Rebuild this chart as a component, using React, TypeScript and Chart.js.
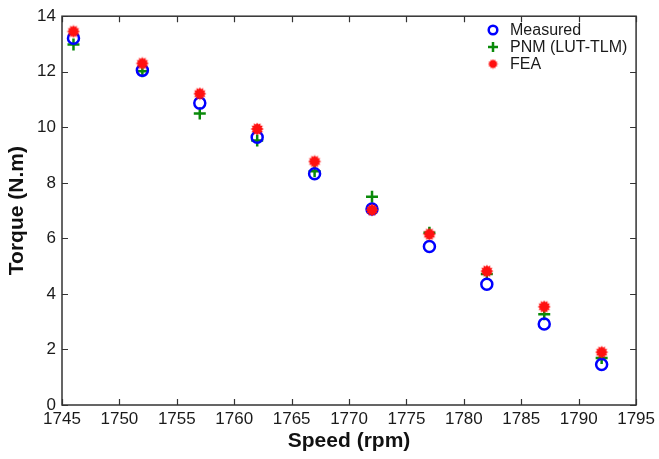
import React, { useEffect, useRef } from "react";
import { Chart, registerables } from "chart.js";

Chart.register(...registerables);

const speeds = [1746, 1752, 1757, 1762, 1767, 1772, 1777, 1782, 1787, 1792];
const measured = [13.21, 12.05, 10.87, 9.64, 8.33, 7.06, 5.71, 4.35, 2.92, 1.46];
const pnm = [12.98, 12.02, 10.5, 9.52, 8.42, 7.5, 6.2, 4.72, 3.27, 1.69];
const fea = [13.45, 12.3, 11.21, 9.94, 8.77, 7.02, 6.15, 4.82, 3.54, 1.9];
const xTicks = [1745, 1750, 1755, 1760, 1765, 1770, 1775, 1780, 1785, 1790, 1795];
const yTicks = [0, 2, 4, 6, 8, 10, 12, 14];
const legendLabels = ["Measured", "PNM (LUT-TLM)", "FEA"];

const BLUE = "#0000ff";
const GREEN = "#0a8a0a";
const RED = "#ff1010";
const FONT = "'Liberation Sans', Arial, sans-serif";

function makeStar(size: number): HTMLCanvasElement {
  const c = document.createElement("canvas");
  c.width = size;
  c.height = size;
  const g = c.getContext("2d")!;
  const cx = size / 2;
  const outer = size / 2 - 0.5;
  const inner = outer * 0.72;
  const n = 12;
  g.fillStyle = RED;
  g.beginPath();
  for (let i = 0; i < n * 2; i++) {
    const r = i % 2 === 0 ? outer : inner;
    const a = (Math.PI * i) / n - Math.PI / 2;
    const px = cx + r * Math.cos(a);
    const py = cx + r * Math.sin(a);
    if (i === 0) g.moveTo(px, py);
    else g.lineTo(px, py);
  }
  g.closePath();
  g.fill();
  return c;
}

export default function App() {
  const ref = useRef<HTMLCanvasElement | null>(null);

  useEffect(() => {
    document.body.style.margin = "0";
    const canvas = ref.current!;
    const star = makeStar(14);
    const starSmall = makeStar(11);

    const framePlugin = {
      id: "frame",
      beforeDatasetsDraw(chart: any) {
        const { ctx, chartArea } = chart;
        const { left, right, top, bottom } = chartArea;
        const x = chart.scales.x;
        const y = chart.scales.y;
        ctx.save();
        ctx.strokeStyle = "#333";
        ctx.lineWidth = 1.5;
        ctx.strokeRect(left, top, right - left, bottom - top);
        ctx.beginPath();
        const tl = 6;
        for (const v of xTicks) {
          const px = Math.round(x.getPixelForValue(v)) + 0.5;
          ctx.moveTo(px, bottom);
          ctx.lineTo(px, bottom - tl);
          ctx.moveTo(px, top);
          ctx.lineTo(px, top + tl);
        }
        for (const v of yTicks) {
          const py = Math.round(y.getPixelForValue(v)) + 0.5;
          ctx.moveTo(left, py);
          ctx.lineTo(left + tl, py);
          ctx.moveTo(right, py);
          ctx.lineTo(right - tl, py);
        }
        ctx.lineWidth = 1.2;
        ctx.stroke();
        ctx.restore();
      },
      afterDraw(chart: any) {
        const { ctx } = chart;
        ctx.save();
        const mx = 493;
        const tx = 510;
        const rows = [30, 47, 64];
        // Measured
        ctx.strokeStyle = BLUE;
        ctx.lineWidth = 2.5;
        ctx.beginPath();
        ctx.arc(mx, rows[0], 4.3, 0, Math.PI * 2);
        ctx.stroke();
        // PNM
        ctx.strokeStyle = GREEN;
        ctx.lineWidth = 2.5;
        ctx.beginPath();
        ctx.moveTo(mx - 5, rows[1]);
        ctx.lineTo(mx + 5, rows[1]);
        ctx.moveTo(mx, rows[1] - 5);
        ctx.lineTo(mx, rows[1] + 5);
        ctx.stroke();
        // FEA
        ctx.drawImage(starSmall, mx - starSmall.width / 2, rows[2] - starSmall.height / 2);
        ctx.fillStyle = "#1a1a1a";
        ctx.font = `16px ${FONT}`;
        ctx.textBaseline = "middle";
        ctx.textAlign = "left";
        legendLabels.forEach((t, i) => ctx.fillText(t, tx, rows[i] + 1));
        ctx.restore();
      },
    };

    const chart = new Chart(canvas, {
      type: "scatter",
      data: {
        datasets: [
          {
            label: legendLabels[0],
            data: speeds.map((s, i) => ({ x: s, y: measured[i] })),
            pointStyle: "circle",
            pointRadius: 5.5,
            borderWidth: 2.5,
            borderColor: BLUE,
            backgroundColor: "rgba(0,0,0,0)",
            order: 2,
          },
          {
            label: legendLabels[1],
            data: speeds.map((s, i) => ({ x: s, y: pnm[i] })),
            pointStyle: "cross",
            pointRadius: 6,
            borderWidth: 2.5,
            borderColor: GREEN,
            backgroundColor: GREEN,
            order: 3,
          },
          {
            label: legendLabels[2],
            data: speeds.map((s, i) => ({ x: s, y: fea[i] })),
            pointStyle: star as any,
            pointRadius: 7,
            borderColor: RED,
            backgroundColor: RED,
            order: 1,
          },
        ],
      },
      options: {
        animation: false,
        responsive: false,
        maintainAspectRatio: false,
        events: [],
        layout: { padding: { top: 13, right: 22, left: 0, bottom: 0 } },
        plugins: {
          legend: { display: false },
          tooltip: { enabled: false },
        },
        scales: {
          x: {
            type: "linear",
            min: 1745,
            max: 1795,
            afterBuildTicks: (scale: any) => {
              scale.ticks = xTicks.map((v) => ({ value: v }));
            },
            afterFit: (scale: any) => {
              scale.height = 54;
            },
            grid: { display: false, drawTicks: false },
            border: { display: false },
            ticks: {
              padding: 4,
              maxRotation: 0,
              autoSkip: false,
              color: "#1a1a1a",
              font: { family: FONT, size: 17 },
              callback: (v: any) => String(v),
            },
            title: {
              display: true,
              text: "Speed (rpm)",
              color: "#111",
              font: { family: FONT, size: 21, weight: "bold" },
              padding: { top: 0, bottom: 5 },
            },
          },
          y: {
            type: "linear",
            min: 0,
            max: 14,
            afterBuildTicks: (scale: any) => {
              scale.ticks = yTicks.map((v) => ({ value: v }));
            },
            afterFit: (scale: any) => {
              scale.width = 62;
            },
            grid: { display: false, drawTicks: false },
            border: { display: false },
            ticks: {
              padding: 6,
              autoSkip: false,
              color: "#1a1a1a",
              font: { family: FONT, size: 17 },
              callback: (v: any) => String(v),
            },
            title: {
              display: true,
              text: "Torque (N.m)",
              color: "#111",
              font: { family: FONT, size: 21, weight: "bold" },
              padding: { top: 5, bottom: 0 },
            },
          },
        },
      },
      plugins: [framePlugin],
    });

    return () => {
      chart.destroy();
    };
  }, []);

  return (
    <div style={{ position: "absolute", left: 0, top: 0, width: 659, height: 459, background: "#fff" }}>
      <canvas ref={ref} width={659} height={459} style={{ display: "block", width: 659, height: 459 }} />
    </div>
  );
}
